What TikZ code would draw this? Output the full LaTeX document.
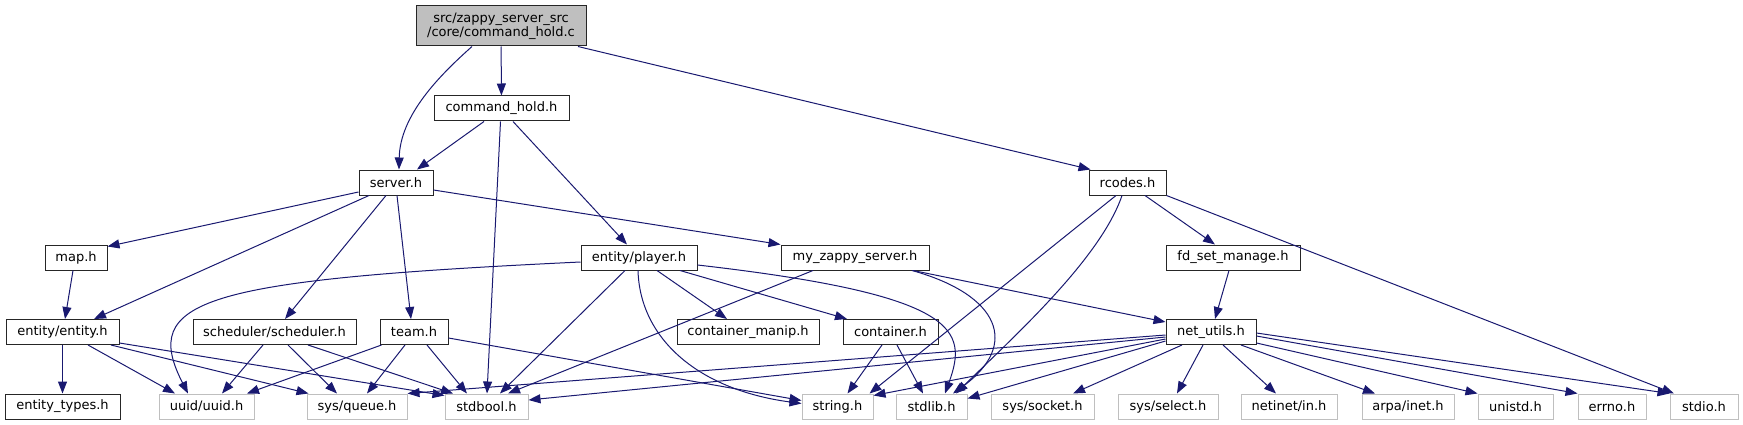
\documentclass[tikz,border=0pt]{standalone}
\usepackage{fontspec}
\setmainfont{DejaVu Sans}
\usepackage{xcolor}
\usepackage{tikz}
\usetikzlibrary{arrows.meta}

\definecolor{edgeblue}{HTML}{191970}
\definecolor{grey75}{HTML}{BFBFBF}

\tikzset{
  hdr/.style={draw=black!85, fill=white, line width=1pt, minimum height=25pt, inner sep=0pt,
    font=\fontsize{13}{14}\selectfont},
  sysh/.style={hdr, draw=grey75},
  dep/.style={-{Triangle[length=12pt,width=9pt]}, draw=edgeblue, line width=1pt}
}

\begin{document}
\begin{tikzpicture}[x=1pt, y=-1pt]
  \useasboundingbox (0,0) rectangle (1743,425);

  \node [hdr, align=center, fill=grey75, minimum width=170pt, minimum height=40pt] at (501,26) (main) {src/zappy\_server\_src\\/core/command\_hold.c};
  \node [hdr, minimum width=135pt] at (501.5,108.5) (cmdh) {command\_hold.h};
  \node [hdr, minimum width=74pt] at (396,182.5) (server) {server.h};
  \node [hdr, minimum width=77pt] at (1127.5,182.5) (rcodes) {rcodes.h};
  \node [hdr, minimum width=62pt] at (76,257.5) (map) {map.h};
  \node [hdr, minimum width=116pt] at (639,257.5) (player) {entity/player.h};
  \node [hdr, minimum width=148pt] at (855,257.5) (myzappy) {my\_zappy\_server.h};
  \node [hdr, minimum width=134pt] at (1233,257.5) (fdset) {fd\_set\_manage.h};
  \node [hdr, minimum width=113pt] at (62.5,332) (entity) {entity/entity.h};
  \node [hdr, minimum width=163pt] at (274.5,332) (sched) {scheduler/scheduler.h};
  \node [hdr, minimum width=68pt] at (414,332) (team) {team.h};
  \node [hdr, minimum width=142pt] at (748,332) (cmanip) {container\_manip.h};
  \node [hdr, minimum width=95pt] at (890.5,332) (container) {container.h};
  \node [hdr, minimum width=90pt] at (1211,332) (netutils) {net\_utils.h};
  \node [hdr, minimum width=115pt] at (62.5,406.5) (etypes) {entity\_types.h};
  \node [sysh, minimum width=95pt] at (206.5,406.5) (uuid) {uuid/uuid.h};
  \node [sysh, minimum width=100pt] at (357,406.5) (queue) {sys/queue.h};
  \node [sysh, minimum width=83pt] at (486.5,406.5) (stdbool) {stdbool.h};
  \node [sysh, minimum width=71pt] at (837.5,406.5) (string) {string.h};
  \node [sysh, minimum width=71pt] at (931.5,406.5) (stdlib) {stdlib.h};
  \node [sysh, minimum width=103pt] at (1042.5,406.5) (socket) {sys/socket.h};
  \node [sysh, minimum width=100pt] at (1168,406.5) (select) {sys/select.h};
  \node [sysh, minimum width=96pt] at (1289,406.5) (netinet) {netinet/in.h};
  \node [sysh, minimum width=92pt] at (1408,406.5) (arpa) {arpa/inet.h};
  \node [sysh, minimum width=75pt] at (1515.5,406.5) (unistd) {unistd.h};
  \node [sysh, minimum width=68pt] at (1612,406.5) (errno) {errno.h};
  \node [sysh, minimum width=68pt] at (1704,406.5) (stdio) {stdio.h};

  \draw [dep] (main) to (cmdh);
  \draw [dep] ([xshift=-29pt] main.south) .. controls (440,75) and (400,115) .. ([xshift=3pt] server.north);
  \draw [dep] ([xshift=77pt] main.south) to ([xshift=2pt] rcodes.north west);
  \draw [dep] ([xshift=-17.5pt] cmdh.south) to ([xshift=21pt] server.north);
  \draw [dep] ([xshift=-1pt] cmdh.south) to ([xshift=0.5pt] stdbool.north);
  \draw [dep] ([xshift=11.5pt] cmdh.south) to ([xshift=-12pt] player.north);
  \draw [dep] ([yshift=-9.5pt] server.west) to ([yshift=-2pt] map.north east);
  \draw [dep] ([xshift=-27pt] server.south) to ([xshift=31.5pt] entity.north);
  \draw [dep] ([xshift=-10pt] server.south) to ([xshift=10.5pt] sched.north);
  \draw [dep] ([xshift=1pt] server.south) to ([xshift=-3pt] team.north);
  \draw [dep] ([yshift=-7.5pt] server.east) to (myzappy.north west);
  \draw [dep] ([xshift=-11.5pt] rcodes.south) to ([xshift=-4pt] string.north east);
  \draw [dep] ([xshift=-5.5pt] rcodes.south) .. controls (1100,260) and (1010,340) .. ([xshift=24.5pt] stdlib.north);
  \draw [dep] ([xshift=17.5pt] rcodes.south) to ([xshift=-18pt] fdset.north);
  \draw [dep] (rcodes.south east) to ([xshift=-30pt] stdio.north);
  \draw [dep] ([xshift=-3pt] map.south) to ([xshift=2.5pt] entity.north);
  \draw [dep] ([yshift=-4.5pt] player.west) .. controls (200,280) and (140,300) .. ([xshift=-18.5pt] uuid.north);
  \draw [dep] ([xshift=-14pt] player.south) to ([xshift=13.5pt] stdbool.north);
  \draw [dep] ([xshift=-1pt] player.south) .. controls (640,340) and (700,390) .. ([yshift=3pt] string.west);
  \draw [dep] ([xshift=18pt] player.south) to ([xshift=-21pt] cmanip.north);
  \draw [dep] ([xshift=41pt] player.south) to ([xshift=-43.5pt] container.north);
  \draw [dep] ([yshift=-7.5pt] player.east) .. controls (960,295) and (968,330) .. ([xshift=13.5pt] stdlib.north);
  \draw [dep] ([xshift=-42pt] myzappy.south) to ([xshift=21.5pt] stdbool.north);
  \draw [dep] ([xshift=57pt] myzappy.south) .. controls (1000,295) and (1020,345) .. ([xshift=21.5pt] stdlib.north);
  \draw [dep] ([xshift=58pt] myzappy.south) to ([yshift=-3pt] netutils.north west);
  \draw [dep] ([xshift=-4pt] fdset.south) to ([xshift=4pt] netutils.north);
  \draw [dep] (entity) to (etypes);
  \draw [dep] ([xshift=25.5pt] entity.south) to ([xshift=-31.5pt] uuid.north);
  \draw [dep] ([xshift=48.5pt] entity.south) to ([xshift=2pt] queue.north west);
  \draw [dep] ([yshift=2pt] entity.south east) to ([yshift=-2pt] stdbool.north west);
  \draw [dep] ([xshift=-11.5pt] sched.south) to ([xshift=15.5pt] uuid.north);
  \draw [dep] ([xshift=13.5pt] sched.south) to ([xshift=-20pt] queue.north);
  \draw [dep] ([xshift=33.5pt] sched.south) to ([xshift=-33.5pt] stdbool.north);
  \draw [dep] ([xshift=2pt] team.south west) to ([xshift=40.5pt] uuid.north);
  \draw [dep] ([xshift=-9pt] team.south) to ([xshift=10pt] queue.north);
  \draw [dep] ([xshift=13pt] team.south) to ([xshift=-19.5pt] stdbool.north);
  \draw [dep] ([yshift=-6pt] team.east) to ([yshift=6pt] string.west);
  \draw [dep] ([xshift=-8.5pt] container.south) to ([xshift=10pt] string.north);
  \draw [dep] ([xshift=6.5pt] container.south) to ([xshift=-8.5pt] stdlib.north);
  \draw [dep] ([yshift=-3pt] netutils.west) to (queue.north east);
  \draw [dep] ([yshift=-5pt] netutils.west) to ([yshift=6.5pt] stdbool.east);
  \draw [dep] ([yshift=-7pt] netutils.west) to ([yshift=-2pt] string.north east);
  \draw [dep] ([yshift=-9pt] netutils.west) to ([yshift=8pt] stdlib.east);
  \draw [dep] ([xshift=-29pt] netutils.south) to ([xshift=30.5pt] socket.north);
  \draw [dep] ([xshift=-8pt] netutils.south) to ([xshift=9pt] select.north);
  \draw [dep] ([xshift=12pt] netutils.south) to ([xshift=-13pt] netinet.north);
  \draw [dep] ([xshift=30pt] netutils.south) to ([xshift=-33pt] arpa.north);
  \draw [dep] ([yshift=2pt] netutils.south east) to (unistd.north west);
  \draw [dep] ([yshift=-4pt] netutils.east) to (errno.north west);
  \draw [dep] ([yshift=-1pt] netutils.east) to (stdio.north west);
\end{tikzpicture}
\end{document}
